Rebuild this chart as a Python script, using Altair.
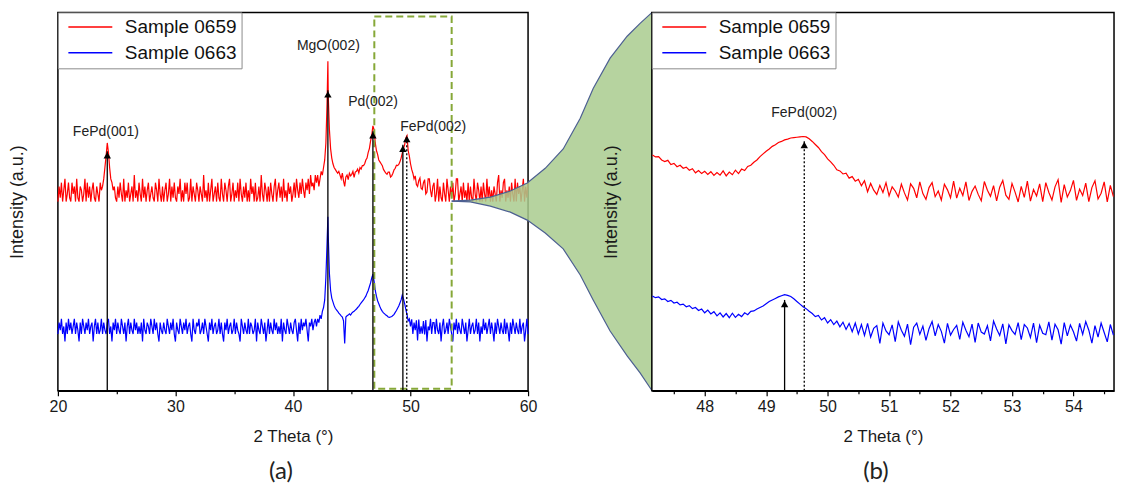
import altair as alt
import pandas as pd

FONT = "Liberation Sans"
SAMPLES = ["Sample 0659", "Sample 0663"]
COLORS = ["#ff0000", "#0000ff"]

# ---------------- (a) survey scan, 20-60 deg on a 0.1 deg grid (one row per degree) ----------------
A_START, A_STEP = 20.0, 0.1
red_a = [
    50, 54, 51, 55, 50, 53, 56, 50, 52, 55,
    51, 50, 55, 52, 54, 50, 56, 51, 50, 54,
    53, 50, 52, 56, 50, 55, 51, 54, 50, 53,
    55, 51, 50, 54, 52, 50, 55, 53, 54, 56,
    59, 62, 65.5, 63, 59, 56, 55, 53, 54, 51,
    50, 54, 51, 55, 52, 50, 56, 50, 53, 51,
    55, 50, 52, 54, 50, 57, 51, 53, 50, 55,
    52, 50, 56, 51, 54, 50, 53, 55, 50, 52,
    54, 51, 50, 55, 53, 50, 56, 52, 50, 54,
    50, 53, 55, 50, 52, 56, 50, 54, 51, 55,
    51, 50, 54, 52, 56, 50, 53, 50, 55, 52,
    55, 50, 51, 56, 50, 54, 52, 50, 55, 53,
    50, 54, 52, 50, 57, 51, 53, 50, 55, 50,
    53, 56, 50, 52, 54, 50, 55, 51, 50, 56,
    52, 50, 55, 53, 50, 54, 56, 50, 52, 55,
    50, 53, 51, 55, 50, 56, 52, 50, 54, 51,
    55, 50, 53, 50, 56, 52, 54, 50, 55, 50,
    51, 54, 50, 57, 52, 50, 55, 53, 50, 54,
    50, 55, 52, 50, 54, 56, 50, 53, 55, 51,
    54, 50, 56, 51, 53, 50, 55, 52, 54, 50,
    52, 55, 51, 56, 53, 51, 55, 52, 56, 53,
    51, 55, 53, 56, 52, 57, 54, 55, 53, 57,
    55, 57, 54, 56, 58, 57, 59, 61, 65.5, 76,
    78, 69, 64, 61.5, 60, 59, 58.5, 58, 57.5, 58,
    57, 56, 57.5, 55.5, 54, 56.5, 57, 55.8, 57.5, 56.8,
    57.2, 58, 56.4, 57.8, 58, 58.6, 57.6, 59, 58.6, 59.5,
    59.5, 60, 61, 61.5, 63, 64, 66, 67.5, 70, 69,
    65.5, 63.5, 62.5, 61, 60.5, 60, 59.5, 58.5, 58, 57.5,
    57.2, 57.8, 57.8, 56.5, 56.8, 57.5, 58.4, 58.8, 59.6, 59.5,
    59.8, 60.5, 61.5, 62.8, 64, 65, 66.8, 67.4, 63.5, 62,
    60, 58.5, 57.5, 56, 56.8, 54.5, 54, 55.5, 56.2, 53.5,
    53.2, 55, 55.8, 52, 52.5, 56, 56, 53, 51.2, 54,
    55, 50, 52, 56, 50, 54, 51, 50, 55, 52,
    50, 56, 53, 50, 54, 51, 55, 50, 52, 56,
    56, 50, 52, 54, 50, 55, 51, 53, 50, 55,
    50, 54, 51, 50, 56, 52, 50, 55, 53, 50,
    54, 50, 55, 52, 50, 56, 51, 54, 50, 53,
    50, 54, 52, 50, 55, 57, 50, 53, 51, 55,
    56, 50, 53, 51, 54, 50, 55, 52, 50, 56,
    50, 55, 52, 54, 50, 53, 56, 50, 54, 51,
    55,
]
blue_a = [
    15, 18, 16, 19, 15, 17, 13, 18, 15, 19,
    16, 18, 15, 17, 19, 15, 18, 16, 13, 18,
    15, 19, 17, 15, 18, 16, 19, 15, 17, 18,
    13, 17, 19, 15, 18, 15, 16, 19, 15, 18,
    16, 15, 18, 19, 15, 17, 13, 18, 16, 19,
    15, 18, 16, 15, 19, 17, 15, 18, 13, 17,
    19, 15, 18, 16, 15, 19, 16, 18, 15, 17,
    15, 18, 13, 19, 16, 15, 18, 17, 15, 19,
    17, 15, 19, 16, 18, 15, 13, 18, 16, 15,
    18, 16, 15, 19, 17, 15, 18, 16, 19, 15,
    13, 18, 16, 15, 19, 17, 15, 18, 16, 19,
    15, 17, 18, 15, 13, 19, 16, 15, 18, 17,
    19, 15, 16, 18, 15, 19, 17, 15, 13, 18,
    16, 19, 15, 17, 18, 15, 16, 19, 15, 18,
    15, 13, 18, 16, 19, 15, 17, 18, 15, 16,
    19, 15, 18, 16, 15, 13, 19, 17, 15, 18,
    16, 15, 19, 15, 18, 17, 15, 16, 19, 13,
    18, 16, 15, 19, 17, 15, 18, 13, 16, 19,
    15, 18, 16, 15, 19, 16, 18, 15, 17, 15,
    19, 13, 18, 16, 15, 19, 17, 15, 18, 16,
    15, 18, 19, 16, 13, 18, 15, 19, 16, 18,
    17, 19, 16, 13, 18, 17, 19, 16, 18, 19,
    17, 19, 18, 20, 19, 21, 22, 24, 30, 39,
    41, 31, 26.5, 24.5, 23.5, 22.5, 21.8, 21.4, 21, 20.5,
    20.2, 19.8, 19.5, 18.5, 12.5, 19.5, 19.8, 20, 20.3, 20,
    20.5, 20.8, 21, 21.3, 21.6, 22, 22.3, 22.8, 23.2, 23.6,
    24, 24.5, 25, 25.8, 26.5, 27.5, 28.5, 29.8, 30.8, 29,
    26.5, 25, 23.8, 23, 22.2, 21.5, 21, 20.6, 20.3, 20,
    19.8, 19.5, 19.4, 19.5, 19.6, 19.9, 20.2, 20.7, 21.2, 21.8,
    22.4, 23.2, 24, 25.3, 24.3, 23, 21.5, 20.2, 18.5, 19,
    17, 18.9, 15, 18, 16, 18.6, 13.3, 18.8, 15, 17,
    15.1, 18.4, 14.9, 18.7, 13, 17, 16, 19, 15, 18,
    18, 15, 19, 16, 15, 18, 13, 17, 19, 15,
    16, 18, 15, 19, 17, 15, 13, 18, 16, 19,
    15, 18, 16, 15, 19, 17, 15, 18, 13, 16,
    19, 15, 17, 18, 15, 16, 19, 15, 18, 13,
    17, 15, 19, 16, 18, 15, 17, 19, 15, 18,
    16, 13, 18, 15, 19, 17, 15, 18, 16, 15,
    19, 15, 18, 16, 13, 18, 15, 19, 17, 15,
    18, 16, 15, 19, 15, 17, 18, 13, 16, 19,
    15,
]
# extra sample on the very narrow MgO(002) substrate reflection
extra_theta_a = [42.97]
extra_red_a = [87.1]
extra_blue_a = [46.0]

# ---------------- (b) fine scan around FePd(002), 0.05 deg grid ----------------
B_START, B_STEP = 47.15, 0.05
red_b = [
    62.3, 61.8, 61.9, 61.0, 60.6, 60.9, 59.8, 60.1, 59.2, 59.6,
    58.8, 59.1, 58.3, 58.7, 57.6, 58.2, 57.4, 58.0, 57.2, 57.9,
    56.9, 57.7, 57.0, 58.1, 56.8, 57.8, 57.1, 58.3, 57.4, 58.6,
    58.2, 59.3, 59.6, 60.4, 61.0, 61.9, 62.6, 63.3, 63.9, 64.6,
    65.0, 65.6, 65.9, 66.3, 66.5, 66.8, 66.9, 67.0, 67.1, 67.2,
    67.1, 66.6, 65.9, 65.1, 64.3, 63.2, 62.4, 61.3, 60.5, 59.6,
    58.4, 58.1, 57.3, 57.5, 56.2, 56.6, 55.4, 55.9, 54.2, 55.5,
    52.6, 54.8, 53.0, 51.9, 54.3, 52.4, 55.0, 51.5, 53.9, 52.8,
    51.2, 54.6, 52.3, 50.4, 54.7, 53.5, 51.0, 55.2, 52.1, 50.6,
    53.7, 55.0, 51.3, 52.8, 50.4, 54.6, 53.1, 51.0, 55.4, 50.9,
    53.5, 51.6, 55.2, 50.3, 52.7, 54.1, 51.9, 50.2, 55.3, 53.0,
    51.4, 54.2, 50.2, 53.8, 55.6, 51.7, 50.6, 54.8, 52.5, 49.9,
    54.0, 51.1, 55.4, 50.1, 53.2, 51.5, 54.7, 50.0, 55.0, 52.4,
    50.4, 53.9, 55.8, 49.8, 54.5, 51.2, 52.9, 55.6, 50.3, 53.3,
    51.6, 54.9, 50.0, 53.7, 55.5, 50.7, 52.2, 55.2, 49.9, 54.3,
    51.3,
]
blue_b = [
    25.0, 24.6, 24.8, 24.1, 24.3, 23.6, 23.9, 23.2, 23.4, 22.7,
    22.9, 22.2, 22.5, 21.7, 22.0, 21.2, 21.6, 20.6, 21.3, 20.3,
    20.9, 19.8, 20.6, 19.5, 20.4, 19.3, 20.5, 19.4, 20.2, 19.6,
    20.6, 20.1, 21.0, 21.1, 21.6, 22.0, 22.4, 23.0, 23.6, 24.0,
    24.4, 24.8, 25.1, 25.4, 25.2, 24.9, 24.3, 23.6, 22.9, 22.2,
    21.7, 21.0, 20.4, 19.6, 19.9, 18.7, 19.3, 17.9, 18.8, 17.5,
    18.4, 16.9, 18.1, 16.2, 17.8, 15.6, 17.9, 15.0, 17.5, 14.6,
    17.8, 14.2, 16.5, 17.2, 12.5, 17.9, 15.8, 14.8, 17.4, 13.0,
    18.2, 16.0, 14.4, 17.6, 12.2, 16.8, 17.9, 14.9, 17.1, 13.3,
    16.4, 18.3, 14.5, 17.5, 15.7, 12.6, 17.8, 14.7, 16.2, 17.3,
    13.6, 18.1, 16.0, 14.3, 17.6, 12.8, 17.9, 15.5, 15.0, 17.2,
    13.2, 18.4, 16.3, 14.6, 17.7, 12.4, 17.4, 15.9, 14.9, 18.0,
    13.5, 17.5, 16.6, 14.1, 17.9, 12.7, 17.3, 15.2, 14.8, 18.2,
    13.4, 17.6, 16.1, 12.3, 18.0, 14.5, 17.4, 15.6, 13.1, 17.8,
    14.9, 18.3, 16.0, 12.6, 17.2, 14.2, 17.9, 15.4, 12.9, 17.5,
    14.7,
]

# ---------------- peak markers and labels ----------------
arrow_theta_a = [24.2, 42.97, 46.8, 49.35]
arrow_top_a = [63.3, 79.4, 68.6, 65.0]
dotted_theta_a = [49.68]
dotted_top_a = [67.6]
peak_names_a = ["FePd(001)", "MgO(002)", "Pd(002)", "FePd(002)"]
label_theta_a = [24.08, 43.01, 46.81, 51.93]
label_v_a = [68.3, 91.1, 76.4, 69.7]

arrow_theta_b = [49.3]
arrow_top_b = [24.0]
dotted_theta_b = [49.62]
dotted_top_b = [66.0]
peak_names_b = ["FePd(002)"]
label_theta_b = [49.62]
label_v_b = [73.4]

# zoom window drawn on (a) and the funnel that leads to (b)
zoom_lo, zoom_hi, zoom_top = 46.92, 53.5, 98.9
funnel_theta = [53.5, 55.09, 56.79, 58.49, 59.93, 61.46, 62.99, 64.44, 65.54, 66.98, 68.43, 69.53, 70.55]
funnel_upper = [50.1, 50.4, 51.2, 52.8, 54.9, 58.8, 63.9, 72.0, 79.9, 87.9, 93.7, 97.1, 100.0]
funnel_lower = [50.1, 49.9, 48.8, 47.2, 45.1, 41.7, 37.5, 30.6, 24.0, 15.8, 9.2, 4.7, 0.0]

W_A, W_B, H, GAP = 471, 463, 379, 124


def scan_frame(start, step, red, blue, extra_t=(), extra_r=(), extra_b=()):
    theta = [round(start + step * i, 3) for i in range(len(red))] + list(extra_t)
    df = pd.DataFrame({"theta": theta,
                       SAMPLES[0]: list(red) + list(extra_r),
                       SAMPLES[1]: list(blue) + list(extra_b)})
    df = df.sort_values("theta")
    return df.melt("theta", var_name="sample", value_name="v")


def x_enc(domain, ticks, major_test, field="theta"):
    return alt.X(
        f"{field}:Q",
        scale=alt.Scale(domain=domain, nice=False, zero=False),
        axis=alt.Axis(
            title="2 Theta (°)", values=ticks, grid=False, labelFlush=False, format=".0f",
            labelExpr=f"{major_test} ? datum.label : ''",
            tickSize={"condition": {"test": major_test, "value": 5}, "value": 3},
            labelPadding=3, titlePadding=14,
        ),
    )


def y_enc(field="v"):
    return alt.Y(
        f"{field}:Q",
        scale=alt.Scale(domain=[0, 100], nice=False, zero=False),
        axis=alt.Axis(title="Intensity (a.u.)", labels=False, ticks=False,
                      domain=False, grid=False, titlePadding=31, titleFontSize=18),
    )


legend = alt.Legend(
    title=None, orient="top-left", offset=0, padding=5, rowPadding=6,
    symbolType="M-1,0H10", symbolSize=64, symbolStrokeWidth=1.5, labelOffset=43,
    labelFont=FONT, labelFontSize=19, labelColor="#111",
    strokeColor="#8c8c8c", fillColor="white",
)
color = alt.Color("sample:N", scale=alt.Scale(domain=SAMPLES, range=COLORS), legend=legend)


def markers(x, y, theta, top, names, lt, lv, dotted_theta, dotted_top):
    arrows = pd.DataFrame({"theta": theta, "base": 0.0, "v": top})
    dotted = pd.DataFrame({"theta": dotted_theta, "base": 0.0, "v": dotted_top})
    heads = pd.concat([arrows, dotted])
    labels = pd.DataFrame({"theta": lt, "v": lv, "name": names})
    ybase = y_enc("base")
    solid = alt.Chart(arrows).mark_rule(color="black", strokeWidth=1.3).encode(x=x, y=ybase, y2="v")
    dots = alt.Chart(dotted).mark_rule(color="black", strokeWidth=1.3, strokeDash=[2, 2]).encode(
        x=x, y=ybase, y2="v")
    tips = alt.Chart(heads).mark_point(shape="triangle-up", filled=True, size=55, color="black",
                                        opacity=1, yOffset=4).encode(x=x, y=y)
    text = alt.Chart(labels).mark_text(font=FONT, fontSize=14, color="#222").encode(
        x=x, y=y, text="name:N")
    return [solid, dots, tips, text]


# ---------------- panel (a) ----------------
xa = x_enc([20, 60], list(range(20, 61, 5)), "datum.value % 10 === 0")
ya = y_enc()
scan_a = scan_frame(A_START, A_STEP, red_a, blue_a, extra_theta_a, extra_red_a, extra_blue_a)
lines_a = alt.Chart(scan_a).mark_line(strokeWidth=1.2).encode(x=xa, y=ya, color=color)

funnel = pd.DataFrame({"theta": funnel_theta, "v": funnel_lower, "v2": funnel_upper})
funnel_edges = pd.concat([
    pd.DataFrame({"theta": funnel_theta, "v": funnel_upper, "edge": "upper"}),
    pd.DataFrame({"theta": funnel_theta, "v": funnel_lower, "edge": "lower"}),
])
funnel_fill = alt.Chart(funnel).mark_area(color="#a9cb8e", opacity=0.85).encode(x=xa, y=ya, y2="v2")
funnel_line = alt.Chart(funnel_edges).mark_line(color="#4c5f91", strokeWidth=1.2).encode(
    x=xa, y=ya, detail="edge:N")

window = pd.DataFrame({"theta": [zoom_lo], "t2": [zoom_hi], "v": [0.5], "v2": [zoom_top]})
window_box = alt.Chart(window).mark_rect(filled=False, color="#86a838", strokeDash=[7, 4],
                                         strokeWidth=2).encode(x=xa, x2="t2", y=ya, y2="v2")

panel_a = alt.layer(
    lines_a, funnel_fill, funnel_line, window_box,
    *markers(xa, ya, arrow_theta_a, arrow_top_a, peak_names_a, label_theta_a, label_v_a,
             dotted_theta_a, dotted_top_a),
).properties(
    width=W_A, height=H,
    title=alt.TitleParams("(a)", orient="bottom", anchor="middle", font="Lato", fontSize=24,
                          fontWeight="normal", color="#222", offset=15, dx=-12),
)

# ---------------- panel (b) ----------------
ticks_b = [47.5 + 0.5 * i for i in range(15)]
xb = x_enc([47.14, 54.66], ticks_b, "datum.value % 1 === 0")
yb = y_enc()
scan_b = scan_frame(B_START, B_STEP, red_b, blue_b)
lines_b = alt.Chart(scan_b).mark_line(strokeWidth=1.2).encode(x=xb, y=yb, color=color)

panel_b = alt.layer(
    lines_b,
    *markers(xb, yb, arrow_theta_b, arrow_top_b, peak_names_b, label_theta_b, label_v_b,
             dotted_theta_b, dotted_top_b),
).properties(
    width=W_B, height=H,
    title=alt.TitleParams("(b)", orient="bottom", anchor="middle", font="Lato", fontSize=24,
                          fontWeight="normal", color="#222", offset=15, dx=-7),
)

chart = (
    alt.hconcat(panel_a, panel_b, spacing=GAP, bounds="flush")
    .resolve_scale(color="independent")
    .properties(padding={"left": 8, "top": 8, "right": 8, "bottom": 8}, background="white")
    .configure_view(stroke="black", strokeWidth=1.5)
    .configure_axis(
        labelFont=FONT, labelFontSize=16, labelColor="#1a1a1a",
        titleFont=FONT, titleFontSize=17, titleFontWeight="normal", titleColor="#1a1a1a",
        domainColor="black", domainWidth=1.5, tickColor="black", tickWidth=1.2,
    )
)

chart.save("out.html", embed_options={"renderer": "svg", "actions": False})
